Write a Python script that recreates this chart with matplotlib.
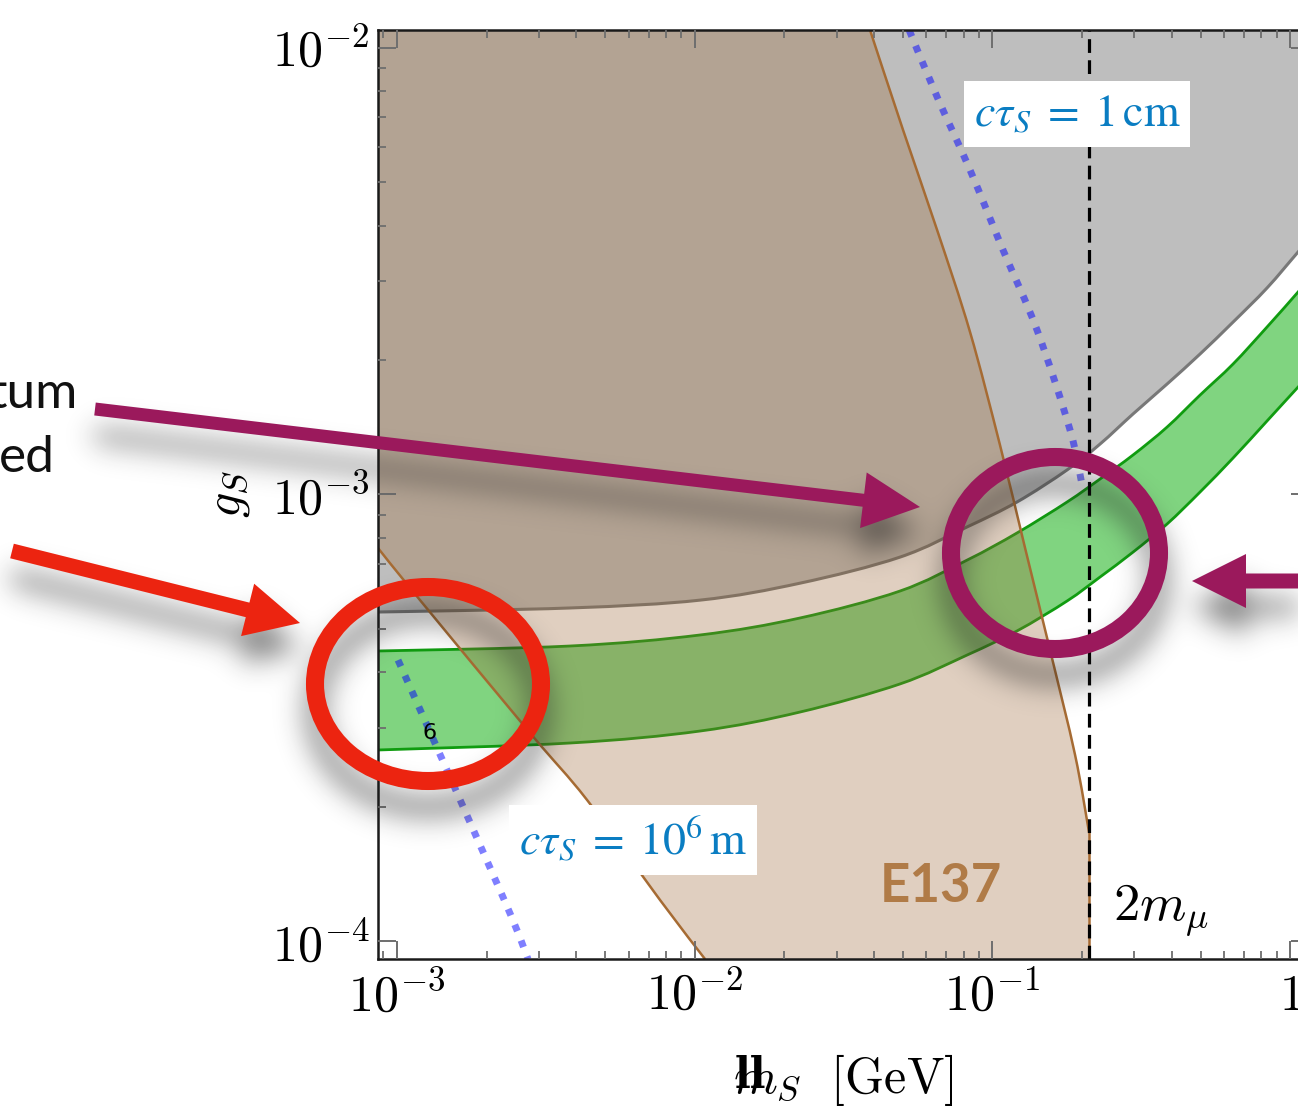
import numpy as np
import matplotlib
matplotlib.use("Agg")
import matplotlib.pyplot as plt
from matplotlib.figure import Figure
from matplotlib.backends.backend_agg import FigureCanvasAgg
from matplotlib.patches import Polygon, Ellipse, PathPatch
from matplotlib.path import Path
from matplotlib.ticker import FixedLocator, LogLocator, NullFormatter

plt.rcParams['mathtext.fontset'] = 'cm'

# ---------------------------------------------------------------- data
# common mass grid (GeV) for the smooth bounds
mass_grid = [8.63e-4, 3.81e-3, 1.042e-2, 2.258e-2, 4.89e-2, 8.22e-2, 0.1209,
             0.1781, 0.2298, 0.2967, 0.3861, 0.4983, 0.6431, 0.8363, 1.063, 1.185]
# lower edge of the grey excluded region
grey_bound = [5.455e-4, 5.57e-4, 5.80e-4, 6.33e-4, 7.24e-4, 8.46e-4, 9.62e-4,
              1.135e-3, 1.297e-3, 1.515e-3, 1.768e-3, 2.064e-3, 2.433e-3,
              2.901e-3, 3.492e-3, 3.79e-3]
# green band (upper / lower edge)
band_hi = [4.462e-4, 4.578e-4, 4.846e-4, 5.290e-4, 6.078e-4, 7.13e-4, 8.20e-4,
           9.62e-4, 1.083e-3, 1.226e-3, 1.416e-3, 1.670e-3, 1.960e-3,
           2.372e-3, 2.841e-3, 3.10e-3]
band_lo = [2.678e-4, 2.776e-4, 2.953e-4, 3.257e-4, 3.764e-4, 4.370e-4, 4.947e-4,
           5.774e-4, 6.533e-4, 7.43e-4, 8.59e-4, 1.013e-3, 1.207e-3,
           1.461e-3, 1.740e-3, 1.881e-3]

# E137 region: lower-left edge and upper-right edge
e137_lo_mass = [8.63e-4, 1.195e-3, 2.80e-3, 4.35e-3, 7.65e-3, 1.083e-2]
e137_lo_coupling = [7.59e-4, 5.80e-4, 2.922e-4, 2.069e-4, 1.235e-4, 9.11e-5]
e137_hi_mass = [0.0388, 0.0501, 0.0652, 0.0841, 0.1060, 0.1287, 0.1561,
                0.1895, 0.2113]
e137_hi_coupling = [1.097e-2, 6.55e-3, 3.91e-3, 2.311e-3, 1.291e-3, 7.59e-4,
                    4.485e-4, 2.61e-4, 1.745e-4]

# decay-length contours
ctau_1cm_mass = [0.0525, 0.0652, 0.0841, 0.1085, 0.1412, 0.1823, 0.2000]
ctau_1cm_coupling = [1.097e-2, 7.77e-3, 5.33e-3, 3.53e-3, 2.335e-3, 1.394e-3, 1.05e-3]
ctau_1e6m_mass = [1.008e-3, 2.270e-3, 2.754e-3]
ctau_1e6m_coupling = [4.258e-4, 1.254e-4, 9.11e-5]

M_2MU = 0.2113  # 2 m_mu in GeV

x_major = [1e-3, 1e-2, 1e-1, 1.0]
x_labels = [r'$10^{-3}$', r'$10^{-2}$', r'$10^{-1}$', r'$1$']
y_major = [1e-4, 1e-3, 1e-2]
y_labels = [r'$10^{-4}$', r'$10^{-3}$', r'$10^{-2}$']

# ---------------------------------------------------------------- helpers


def smooth_curve(xs, ys):
    """Cubic Bezier segments through the points (Catmull-Rom in log-log space)."""
    P = np.column_stack([np.log10(xs), np.log10(ys)])
    n = len(P)
    verts, codes = [P[0]], [Path.MOVETO]
    for i in range(n - 1):
        p0, p1 = P[max(i - 1, 0)], P[i]
        p2, p3 = P[i + 1], P[min(i + 2, n - 1)]
        verts += [p1 + (p2 - p0) / 6, p2 - (p3 - p1) / 6, p2]
        codes += [Path.CURVE4] * 3
    return list(10 ** np.array(verts)), codes


def curve_path(xs, ys):
    v, c = smooth_curve(xs, ys)
    return Path(v, c)


def closed_path(pieces):
    """Join smooth pieces / straight corner points into one closed outline."""
    verts, codes = [], []
    for kind, data in pieces:
        if kind == 'curve':
            v, c = smooth_curve(*data)
            c = list(c)
            c[0] = Path.MOVETO if not verts else Path.LINETO
        else:
            v = [data]
            c = [Path.MOVETO if not verts else Path.LINETO]
        verts += list(v)
        codes += c
    verts.append(verts[0])
    codes.append(Path.CLOSEPOLY)
    return Path(verts, codes)


# ---------------------------------------------------------------- figure
W, H, DPI = 1298, 1107, 100
fig = plt.figure(figsize=(W / DPI, H / DPI), dpi=DPI)
fig.patch.set_facecolor('white')

ax = fig.add_axes([378 / W, (H - 959) / H, 931 / W, 929 / H])
ax.set_xscale('log')
ax.set_yscale('log')
XLIM = (8.633e-4, 1.157)
YLIM = (9.114e-5, 1.0972e-2)
ax.set_xlim(*XLIM)
ax.set_ylim(*YLIM)

GREY = '#bebebe'
TAN = (155 / 255, 103 / 255, 52 / 255)
BROWN_EDGE = '#a66b33'
GREEN = '#80d480'
GREEN_EDGE = '#109c10'
far_lo, far_hi = YLIM[0] / 3, YLIM[1] * 3
x_far_lo, x_far_hi = XLIM[0] / 3, XLIM[1] * 3

# grey excluded region above its bound
grey_path = closed_path([('curve', (mass_grid, grey_bound)),
                         ('pt', (x_far_hi, grey_bound[-1])),
                         ('pt', (x_far_hi, far_hi)),
                         ('pt', (x_far_lo, far_hi)),
                         ('pt', (x_far_lo, grey_bound[0]))])
ax.add_patch(PathPatch(grey_path, facecolor=GREY, lw=0, zorder=1))
ax.add_patch(PathPatch(curve_path(mass_grid, grey_bound), fill=False,
                       edgecolor='#787878', lw=2.2, zorder=1.5))

# green band
band_path = closed_path([('curve', (mass_grid, band_hi)),
                         ('curve', (mass_grid[::-1], band_lo[::-1]))])
ax.add_patch(PathPatch(band_path, facecolor=GREEN, lw=0, zorder=2))
for edge in (band_hi, band_lo):
    ax.add_patch(PathPatch(curve_path(mass_grid, edge), fill=False,
                           edgecolor=GREEN_EDGE, lw=2.0, zorder=2.2))

# decay-length contours
for mx, gy in ((ctau_1cm_mass, ctau_1cm_coupling), (ctau_1e6m_mass, ctau_1e6m_coupling)):
    pp = PathPatch(curve_path(mx, gy), fill=False, edgecolor='#0000ff', alpha=0.5,
                   lw=5.0, linestyle=(0, (1, 1.45)), zorder=3)
    pp.set_capstyle('butt')
    ax.add_patch(pp)

# E137 region
e137_path = closed_path([('pt', (e137_lo_mass[-1] * 1.5, far_lo)),
                         ('curve', (e137_lo_mass[::-1], e137_lo_coupling[::-1])),
                         ('pt', (x_far_lo, e137_lo_coupling[0])),
                         ('pt', (x_far_lo, far_hi)),
                         ('pt', (e137_hi_mass[0] * 0.7, far_hi)),
                         ('curve', (e137_hi_mass, e137_hi_coupling)),
                         ('pt', (M_2MU, far_lo))])
ax.add_patch(PathPatch(e137_path, facecolor=TAN, alpha=0.31, lw=0, zorder=4))
ax.add_patch(PathPatch(curve_path(e137_lo_mass, e137_lo_coupling), fill=False,
                       edgecolor=BROWN_EDGE, lw=1.8, zorder=4.5))
ax.add_patch(PathPatch(curve_path(e137_hi_mass, e137_hi_coupling), fill=False,
                       edgecolor=BROWN_EDGE, lw=1.8, zorder=4.5))
ax.plot([M_2MU, M_2MU], [e137_hi_coupling[-1], far_lo], color=BROWN_EDGE,
        lw=1.8, zorder=4.5)

ax.axvline(M_2MU, color='black', lw=2.3, dashes=(4.3, 2.3), zorder=5)

ax.xaxis.set_major_locator(FixedLocator(x_major))
ax.set_xticklabels(x_labels)
ax.yaxis.set_major_locator(FixedLocator(y_major))
ax.set_yticklabels(y_labels)
for axis in (ax.xaxis, ax.yaxis):
    axis.set_minor_locator(LogLocator(base=10, subs=np.arange(2, 10), numticks=50))
    axis.set_minor_formatter(NullFormatter())
    axis.set_zorder(10)
ax.tick_params(which='both', direction='in', top=True, right=True,
               color='#6e6e6e', labelcolor='black', labelsize=36)
ax.tick_params(which='major', length=13, width=1.4)
ax.tick_params(which='minor', length=6, width=1.3)
ax.tick_params(axis='x', pad=9)
ax.tick_params(axis='y', pad=6)
for sp in ax.spines.values():
    sp.set_linewidth(1.8)
    sp.set_color('#1a1a1a')
    sp.set_zorder(10)

# ---------------------------------------------------------------- overlay (pixel coordinates)
RED = '#ec2410'
PURPLE = '#9b195c'


def arrow_poly(tail, tip, shaft_w, head_len, head_w):
    t = np.asarray(tail, float)
    p = np.asarray(tip, float)
    u = (p - t) / np.hypot(*(p - t))
    n = np.array([-u[1], u[0]])
    b = p - u * head_len
    return [t + n * shaft_w / 2, b + n * shaft_w / 2, b + n * head_w / 2, p,
            b - n * head_w / 2, b - n * shaft_w / 2, t - n * shaft_w / 2]


def draw_marks(a, shadow=False):
    def col(c):
        return 'black' if shadow else c
    a.add_patch(Polygon(arrow_poly((12, 551), (300, 623), 15, 54, 54),
                        closed=True, fc=col(RED), ec='none', zorder=3))
    a.add_patch(Ellipse((428, 684), 226, 194, fill=False, ec=col(RED), lw=13, zorder=3))
    a.add_patch(Polygon(arrow_poly((95, 409), (920, 507), 13, 57, 56),
                        closed=True, fc=col(PURPLE), ec='none', zorder=3))
    a.add_patch(Ellipse((1055, 553), 208, 192, fill=False, ec=col(PURPLE), lw=13, zorder=3))
    a.add_patch(Polygon(arrow_poly((1400, 581), (1192, 581), 15, 54, 54),
                        closed=True, fc=col(PURPLE), ec='none', zorder=3))


def pixel_axes(f):
    a = f.add_axes([0, 0, 1, 1])
    a.set_xlim(0, W)
    a.set_ylim(H, 0)
    a.axis('off')
    return a


# soft drop shadow of the highlight marks
sfig = Figure(figsize=(W / DPI, H / DPI), dpi=DPI)
canvas = FigureCanvasAgg(sfig)
sfig.patch.set_alpha(0)
sax = pixel_axes(sfig)
draw_marks(sax, shadow=True)
canvas.draw()
mask = np.asarray(canvas.buffer_rgba())[..., 3].astype(float) / 255.0


def soft_shadow(m, sigma, dy, dx):
    pad = int(4 * sigma) + max(abs(dx), abs(dy))
    mp = np.pad(m, pad)
    h, w = mp.shape
    fy = np.fft.fftfreq(h)[:, None]
    fx = np.fft.fftfreq(w)[None, :]
    g = np.exp(-2 * (np.pi * sigma) ** 2 * (fx ** 2 + fy ** 2))
    b = np.real(np.fft.ifft2(np.fft.fft2(mp) * g))
    b = np.roll(b, (dy, dx), axis=(0, 1))
    return np.clip(b[pad:pad + m.shape[0], pad:pad + m.shape[1]], 0, 1)


shade = soft_shadow(mask, 14, 26, 0)
rgba = np.zeros(shade.shape + (4,))
rgba[..., :3] = 0.12
rgba[..., 3] = np.clip(shade * 0.6, 0, 1)

axo = pixel_axes(fig)
axo.imshow(rgba, extent=(0, W, H, 0), origin='upper', aspect='auto',
           interpolation='bilinear', zorder=1)
axo.set_xlim(0, W)
axo.set_ylim(H, 0)
draw_marks(axo)

# plot texts
blue = '#0a7dc2'
box = dict(facecolor='white', edgecolor='none', boxstyle='square,pad=0.22')
axo.text(1077, 114, r'$c\tau_S\;=\;1\,\mathrm{cm}$', math_fontfamily='stix',
         fontsize=33, color=blue, ha='center', va='center', bbox=box, zorder=2)
axo.text(633, 840, r'$c\tau_S\;=\;10^6\,\mathrm{m}$', math_fontfamily='stix',
         fontsize=33, color=blue, ha='center', va='center', bbox=box, zorder=2)
axo.text(880, 902, 'E137', family='Lato', weight='bold', fontsize=38,
         color='#b07b47', ha='left', va='baseline', zorder=2)
axo.text(1113, 920, r'$2m_\mu$', fontsize=38, ha='left', va='baseline', zorder=2)
axo.text(430, 733, '6', family='DejaVu Sans', fontsize=16, ha='center',
         va='center', zorder=2)

axo.text(228, 494, r'$g_S$', fontsize=36, rotation=90, ha='center', va='center')
axo.text(843, 1080, r'$m_S\ \ \mathrm{[GeV]}$', fontsize=36, ha='center', va='center')
axo.text(750, 1076, 'll', family='DejaVu Serif', weight='bold', fontsize=30,
         ha='center', va='center')

axo.text(78, 408, 'tum', family='Lato', fontsize=37, color='#111111',
         ha='right', va='baseline')
axo.text(55, 472, 'ed', family='Lato', fontsize=37, color='#111111',
         ha='right', va='baseline')

fig.savefig('out.png', dpi=DPI)
